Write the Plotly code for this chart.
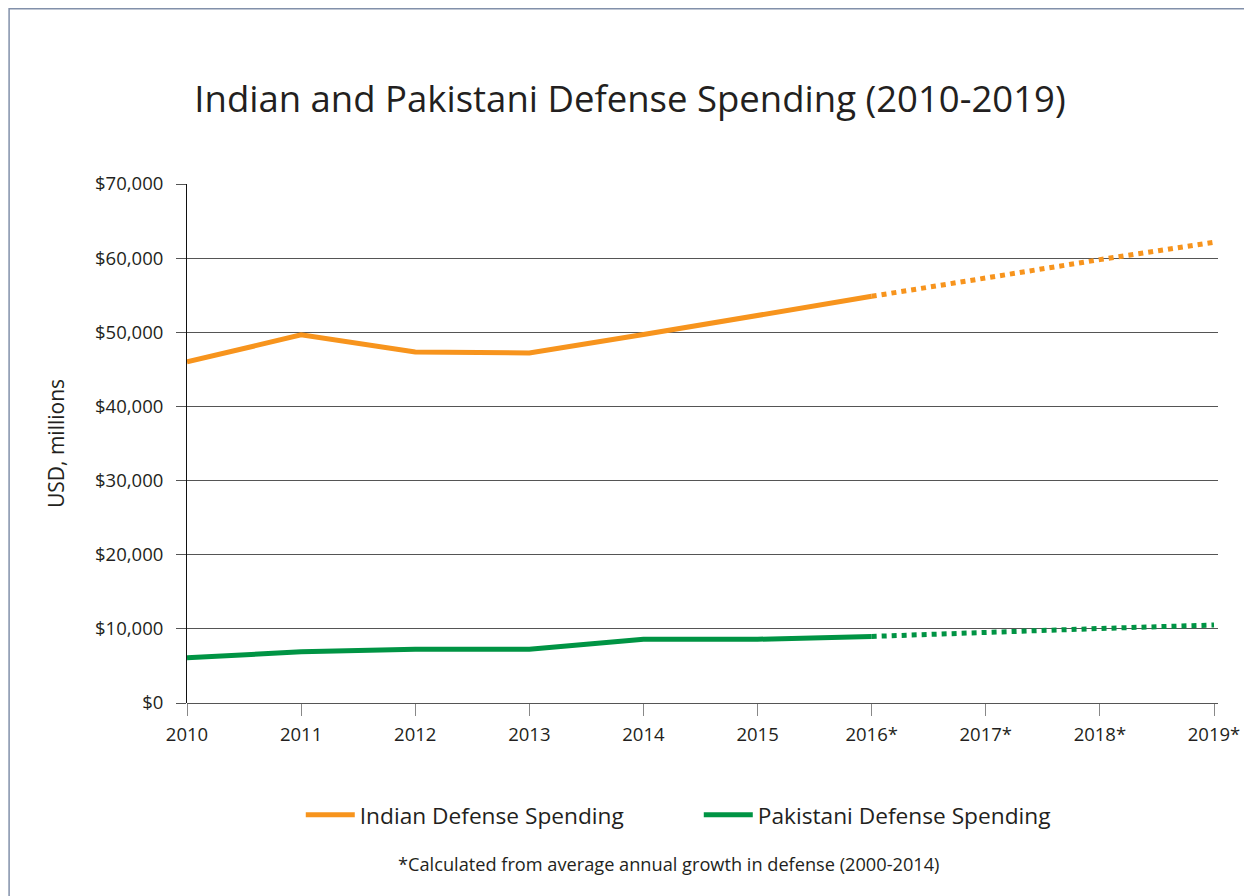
import plotly.graph_objects as go

# ---- data ----
years = ["2010", "2011", "2012", "2013", "2014", "2015", "2016*", "2017*", "2018*", "2019*"]
india_actual = [46000, 49650, 47350, 47200, 49700, 52300, 54850]          # 2010-2016
india_projected = [57400, 59800, 62150]                                   # 2017-2019
pakistan_actual = [6100, 6900, 7250, 7250, 8600, 8600, 8980]              # 2010-2016
pakistan_projected = [9550, 10050, 10520]                                 # 2017-2019

y_ticks = [0, 10000, 20000, 30000, 40000, 50000, 60000, 70000]
y_ticktext = ["$0", "$10,000", "$20,000", "$30,000", "$40,000", "$50,000", "$60,000", "$70,000"]

ORANGE = "#F7941D"
GREEN = "#009444"
TXT = "#231f20"
FONT = "Open Sans"

# figure sits inside the page's 8px body margin
W, H = 1244, 888
L, R, T, B = 179, 32, 176, 193
PW, PH = W - L - R, H - T - B

n_act = len(india_actual)
fig = go.Figure()
fig.add_trace(go.Scatter(x=years[:n_act], y=india_actual, mode="lines",
                         name="Indian Defense Spending",
                         line=dict(color=ORANGE, width=5)))
fig.add_trace(go.Scatter(x=years[:n_act], y=pakistan_actual, mode="lines",
                         name="Pakistani Defense Spending",
                         line=dict(color=GREEN, width=5)))
fig.add_trace(go.Scatter(x=years[n_act - 1:], y=[india_actual[-1]] + india_projected,
                         mode="lines", showlegend=False,
                         line=dict(color=ORANGE, width=5, dash="dot")))
fig.add_trace(go.Scatter(x=years[n_act - 1:], y=[pakistan_actual[-1]] + pakistan_projected,
                         mode="lines", showlegend=False,
                         line=dict(color=GREEN, width=5, dash="dot")))

fig.update_layout(
    width=W, height=H,
    margin=dict(l=L, r=R, t=T, b=B, pad=0),
    paper_bgcolor="white", plot_bgcolor="white",
    font=dict(family=FONT, color=TXT),
    title=dict(text="Indian and Pakistani Defense Spending (2010-2019)",
               x=622 / W, xanchor="center", xref="container",
               y=1 - 91 / H, yanchor="middle", yref="container",
               font=dict(family=FONT, size=36.5, color=TXT)),
    showlegend=True,
    legend=dict(orientation="h", x=(293 - L) / PW, xanchor="left",
                y=(695 - 807) / PH, yanchor="middle",
                font=dict(family=FONT, size=22.7, color=TXT),
                itemwidth=49, entrywidth=334),
    xaxis=dict(type="category", categoryorder="array", categoryarray=years,
               range=[0, 9.035], showgrid=False, zeroline=False,
               showline=False, ticks="outside", ticklen=12, tickcolor="#888",
               tickwidth=1, ticklabelstandoff=3,
               tickfont=dict(family=FONT, size=18.5, color=TXT)),
    yaxis=dict(range=[0, 70000], tickvals=y_ticks, ticktext=y_ticktext,
               showgrid=True, gridcolor="#555", gridwidth=1,
               zeroline=True, zerolinecolor="#555", zerolinewidth=1,
               showline=True, linecolor="#111", linewidth=1,
               ticks="outside", ticklen=10, tickcolor="#555",
               ticklabelstandoff=9,
               tickfont=dict(family=FONT, size=18.5, color=TXT),
               title=dict(text="USD, millions", standoff=24,
                          font=dict(family=FONT, size=21, color=TXT))),
)

# page border (top and left edges visible)
fig.add_shape(type="rect", xref="paper", yref="paper",
              x0=(0.75 - L) / PW, x1=1.2, y0=-0.6, y1=(695 - 0.75) / PH,
              line=dict(color="#8290aa", width=1.5), fillcolor="rgba(0,0,0,0)", layer="below")

fig.add_annotation(text="*Calculated from average annual growth in defense (2000-2014)",
                   xref="paper", yref="paper", x=(661 - L) / PW, y=(695 - 856) / PH,
                   xanchor="center", yanchor="middle", showarrow=False,
                   font=dict(family=FONT, size=18.2, color=TXT))

fig.write_html("out.html")
